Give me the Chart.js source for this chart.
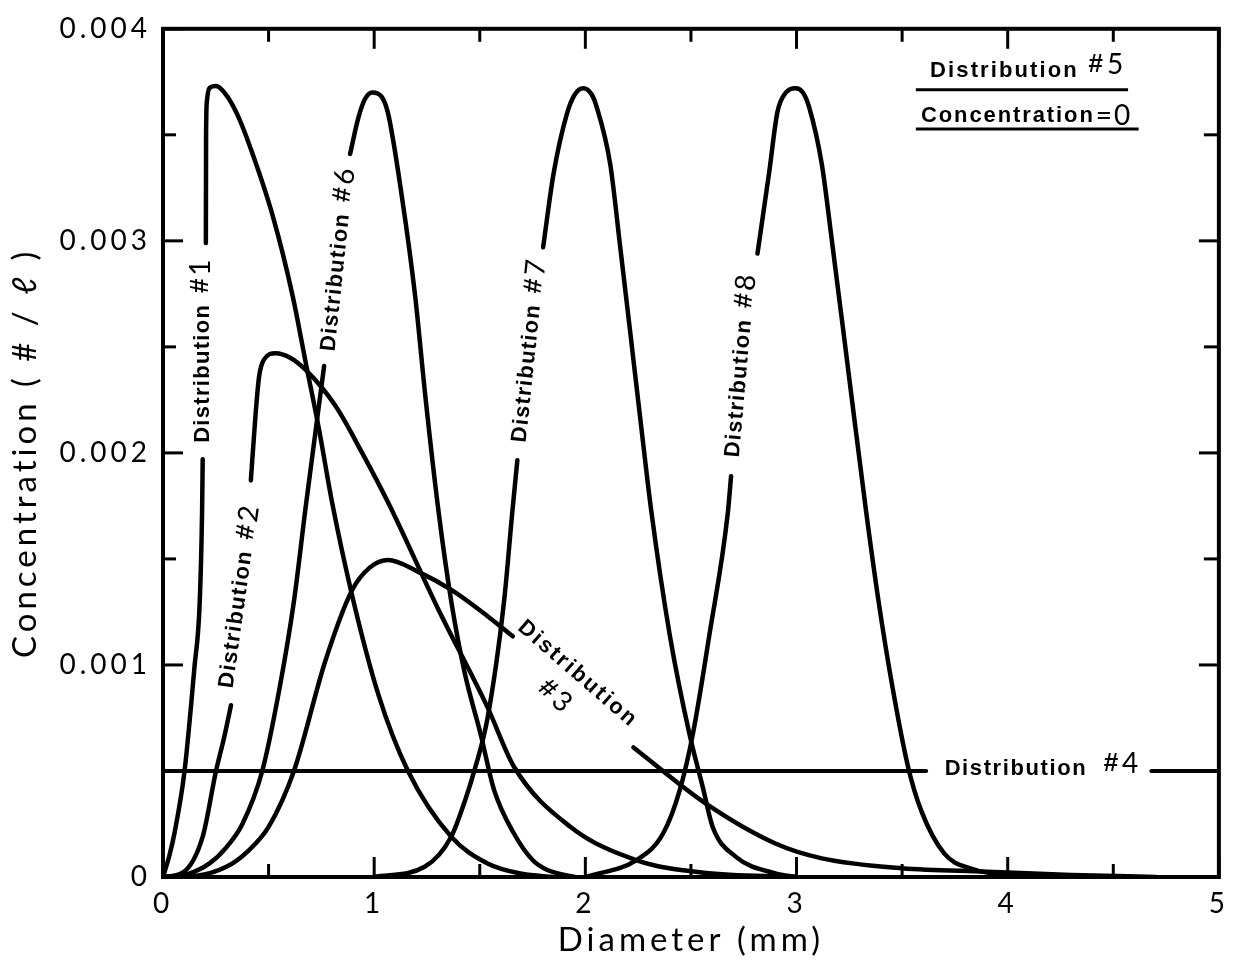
<!DOCTYPE html>
<html>
<head>
<meta charset="utf-8">
<script src="https://cdn.jsdelivr.net/npm/chart.js@4.4.1/dist/chart.umd.min.js"></script>
<style>
  html, body { margin: 0; padding: 0; background: #fff; }
  canvas { display: block; }
</style>
</head>
<body>
<canvas id="dropChart" width="1237" height="966"></canvas>
<script>
// diameter in mm, concentration in units of 0.001 #/l; null marks the break where a label sits
const dist1 = [[0,0],[0.03,0.1],[0.055,0.21],[0.102,0.5],[0.149,0.99],[0.174,1.3],[0.185,1.72],[0.188,1.97],[0.196,null],
  [0.203,2.99],[0.204,3.5],[0.208,3.66],[0.22,3.72],[0.251,3.73],[0.298,3.69],[0.35,3.6],[0.41,3.45],[0.519,3.12],
  [0.614,2.74],[0.677,2.42],[0.739,2.11],[0.8,1.77],[0.895,1.33],[1.02,0.86],[1.16,0.5],[1.365,0.19],[1.537,0.064],
  [1.7,0.015],[1.85,0]];
const dist2 = [[0,0],[0.093,0.02],[0.188,0.19],[0.251,0.5],[0.29,0.66],[0.322,0.81],[0.37,null],[0.416,1.87],
  [0.439,2.19],[0.455,2.36],[0.478,2.44],[0.533,2.47],[0.6,2.45],[0.677,2.39],[0.818,2.22],[0.943,2.0],[1.069,1.76],
  [1.3,1.27],[1.537,0.8],[1.662,0.52],[1.93,0.236],[2.24,0.08],[2.56,0.02],[3.0,0]];
const dist3 = [[0,0],[0.15,0.005],[0.3,0.048],[0.4,0.12],[0.5,0.236],[0.62,0.5],[0.769,1.02],[0.894,1.35],[0.98,1.46],
  [1.066,1.495],[1.207,1.44],[1.364,1.355],[1.537,1.23],[1.656,1.135],[1.9,null],[2.228,0.611],[2.571,0.346],
  [2.9,0.158],[3.12,0.088],[3.5,0.041],[3.9,0.025],[4.3,0.01],[4.7,0]];
const dist4 = [[0,0.5],[3.614,0.5],[4.1,null],[4.68,0.5],[5,0.5]];
const dist6 = [[0,0],[0.12,0.015],[0.22,0.064],[0.3,0.14],[0.376,0.25],[0.47,0.5],[0.55,0.88],[0.62,1.3],[0.675,1.74],
  [0.763,2.41],[0.82,null],[0.886,3.41],[0.925,3.58],[0.957,3.67],[0.991,3.7],[1.035,3.68],[1.066,3.6],[1.131,3.21],
  [1.194,2.74],[1.242,2.27],[1.304,1.73],[1.365,1.3],[1.427,0.97],[1.505,0.67],[1.568,0.41],[1.662,0.205],[1.75,0.08],
  [1.82,0.033],[1.95,0]];
const dist7 = [[1.0,0],[1.239,0.048],[1.365,0.19],[1.43,0.36],[1.474,0.5],[1.537,0.75],[1.615,1.3],[1.654,1.72],
  [1.678,1.965],[1.74,null],[1.8,2.97],[1.85,3.32],[1.913,3.6],[1.95,3.69],[1.99,3.72],[2.03,3.69],[2.054,3.63],
  [2.118,3.36],[2.164,2.98],[2.21,2.59],[2.258,2.18],[2.313,1.72],[2.4,1.14],[2.493,0.674],[2.556,0.424],[2.603,0.236],
  [2.713,0.095],[2.9,0.017],[3.0,0]];
const dist8 = [[2.0,0],[2.242,0.08],[2.368,0.205],[2.447,0.41],[2.509,0.674],[2.587,1.14],[2.675,1.72],[2.69,1.89],
  [2.75,null],[2.815,2.94],[2.87,3.32],[2.91,3.61],[2.95,3.7],[2.996,3.72],[3.03,3.7],[3.06,3.63],[3.12,3.36],[3.17,2.98],
  [3.216,2.62],[3.26,2.27],[3.33,1.72],[3.387,1.31],[3.45,0.92],[3.528,0.52],[3.59,0.314],[3.7,0.11],[3.826,0.04],
  [4.0,0.01],[4.4,0]];

const xTickLabels = ['0', '1', '2', '3', '4', '5'];
const yTickLabels = ['0', '0.001', '0.002', '0.003', '0.004'];
const xMinorTicks = [0.5, 1.5, 2.5, 3.5, 4.5];
const yMinorTicks = [0.5, 1.5, 2.5, 3.5];

// label anchors in data units
const curveLabels = [
  { num: '1', x: 0.189, y: 2.48, angle: -90 },
  { num: '2', x: 0.361, y: 1.32, angle: -82 },
  { num: '6', x: 0.829, y: 2.91, angle: -84 },
  { num: '7', x: 1.734, y: 2.48, angle: -84 },
  { num: '8', x: 2.736, y: 2.41, angle: -85 },
];

const WORD_FONT = 'bold 22px "Liberation Sans", Arial, sans-serif';
const HASH_FONT = 'bold 26px "Liberation Sans", Arial, sans-serif';
const NUM_FONT = '28px Lato, sans-serif';

function drawRun(ctx, cx, cy, angle, parts) {
  ctx.save();
  ctx.letterSpacing = '0px';
  const widths = parts.map(p => {
    ctx.font = p.font;
    return ctx.measureText(p.text).width + (p.spacing || 0) * (p.text.length - 1);
  });
  const total = parts.reduce((s, p, i) => s + (p.gap || 0) + widths[i], 0);
  ctx.translate(cx, cy);
  ctx.rotate(angle * Math.PI / 180);
  ctx.textAlign = 'left';
  ctx.textBaseline = 'middle';
  ctx.fillStyle = '#000';
  let pos = -total / 2;
  parts.forEach((p, i) => {
    pos += p.gap || 0;
    ctx.font = p.font;
    ctx.letterSpacing = (p.spacing || 0) + 'px';
    ctx.fillText(p.text, pos, -(p.rise || 0));
    pos += widths[i];
  });
  ctx.restore();
}

function labelParts(num, spacing) {
  return [
    { text: 'Distribution', font: WORD_FONT, spacing: spacing },
    { text: '#', font: HASH_FONT, gap: 12, rise: 2 },
    { text: num, font: NUM_FONT, gap: 3, rise: 2 },
  ];
}

const framePlugin = {
  id: 'frame',
  beforeDraw(chart) {
    chart.ctx.letterSpacing = '4px';
  },
  afterDraw(chart) {
    const ctx = chart.ctx;
    const { left, right, top, bottom } = chart.chartArea;
    const xs = chart.scales.x, ys = chart.scales.y;
    ctx.save();
    ctx.letterSpacing = '0px';
    ctx.strokeStyle = '#000';
    ctx.lineWidth = 4;
    ctx.strokeRect(left, top, right - left, bottom - top);

    ctx.lineWidth = 3;
    const tick = (x1, y1, x2, y2) => { ctx.beginPath(); ctx.moveTo(x1, y1); ctx.lineTo(x2, y2); ctx.stroke(); };
    xTickLabels.forEach((t, v) => {
      const px = xs.getPixelForValue(v);
      tick(px, bottom, px, bottom - 20);
      tick(px, top, px, top + 20);
    });
    xMinorTicks.forEach(v => {
      const px = xs.getPixelForValue(v);
      tick(px, bottom, px, bottom - 13);
      tick(px, top, px, top + 13);
    });
    yTickLabels.forEach((t, v) => {
      const py = ys.getPixelForValue(v);
      tick(left, py, left + 20, py);
      tick(right, py, right - 20, py);
    });
    yMinorTicks.forEach(v => {
      const py = ys.getPixelForValue(v);
      tick(left, py, left + 13, py);
      tick(right, py, right - 15, py);
    });
    ctx.restore();

    curveLabels.forEach(l => {
      drawRun(ctx, xs.getPixelForValue(l.x), ys.getPixelForValue(l.y), l.angle, labelParts(l.num, 1.3));
    });

    // distribution 3: word along the curve, number tucked underneath
    drawRun(ctx, xs.getPixelForValue(1.96), ys.getPixelForValue(0.961), 41,
      [{ text: 'Distribution', font: WORD_FONT, spacing: 2.3 }]);
    drawRun(ctx, xs.getPixelForValue(1.856), ys.getPixelForValue(0.855), 41, [
      { text: '#', font: HASH_FONT },
      { text: '3', font: NUM_FONT, gap: 4 },
    ]);

    // distribution 4 sits in the horizontal line
    drawRun(ctx, xs.getPixelForValue(4.16), ys.getPixelForValue(0.51), 0, [
      { text: 'Distribution', font: WORD_FONT, spacing: 1.6 },
      { text: '#', font: HASH_FONT, gap: 18, rise: 5 },
      { text: '4', font: NUM_FONT, gap: 4, rise: 5 },
    ]);

    // distribution 5 note, top right
    drawRun(ctx, xs.getPixelForValue(4.09), ys.getPixelForValue(3.8), 0, [
      { text: 'Distribution', font: WORD_FONT, spacing: 2.1 },
      { text: '#', font: HASH_FONT, gap: 12, rise: 6 },
      { text: '5', font: NUM_FONT, gap: 4, rise: 6 },
    ]);
    drawRun(ctx, xs.getPixelForValue(4.085), ys.getPixelForValue(3.59), 0, [
      { text: 'Concentration', font: WORD_FONT, spacing: 1.9 },
      { text: '=', font: NUM_FONT, gap: 3 },
      { text: '0', font: NUM_FONT, gap: 2 },
    ]);
    ctx.save();
    ctx.strokeStyle = '#000';
    ctx.lineWidth = 3;
    const u1 = ys.getPixelForValue(3.712), u2 = ys.getPixelForValue(3.528);
    ctx.beginPath();
    ctx.moveTo(xs.getPixelForValue(3.565), u1); ctx.lineTo(xs.getPixelForValue(4.57), u1);
    ctx.moveTo(xs.getPixelForValue(3.565), u2); ctx.lineTo(xs.getPixelForValue(4.62), u2);
    ctx.stroke();
    ctx.restore();
  }
};

const curves = [
  ['Distribution #1', dist1], ['Distribution #2', dist2], ['Distribution #3', dist3],
  ['Distribution #4', dist4], ['Distribution #6', dist6], ['Distribution #7', dist7], ['Distribution #8', dist8],
];

new Chart('dropChart', {
  type: 'line',
  data: {
    datasets: curves.map(([name, pts]) => ({
      label: name,
      data: pts.map(([x, y]) => ({ x: x, y: y })),
      borderColor: '#000',
      borderWidth: pts === dist4 ? 4 : 4.5,
      borderCapStyle: 'round',
      pointRadius: 0,
      fill: false,
      spanGaps: false,
      cubicInterpolationMode: 'monotone',
    })),
  },
  options: {
    responsive: false,
    animation: false,
    layout: { padding: { top: 25, right: 12, bottom: 0, left: 0 } },
    plugins: { legend: { display: false }, tooltip: { enabled: false } },
    scales: {
      x: {
        type: 'linear', min: 0, max: 5,
        grid: { display: false, drawTicks: false },
        border: { display: false },
        ticks: {
          stepSize: 1, padding: 10, color: '#000',
          font: { family: 'Lato', size: 28 },
          callback: v => xTickLabels[v],
        },
        title: {
          display: true, text: 'Diameter (mm)', color: '#000',
          font: { family: 'Lato', size: 33 }, padding: { top: 0, bottom: 6 },
        },
        afterFit: s => { s.height = 89; },
      },
      y: {
        type: 'linear', min: 0, max: 4,
        grid: { display: false, drawTicks: false },
        border: { display: false },
        ticks: {
          stepSize: 1, padding: 12, color: '#000',
          font: { family: 'Lato', size: 28 },
          callback: v => yTickLabels[v],
        },
        title: {
          display: true, text: 'Concentration ( # / ℓ )', color: '#000',
          font: { family: 'Lato', size: 33 }, padding: { top: 6, bottom: 0 },
        },
        afterFit: s => { s.width = 163; },
      },
    },
  },
  plugins: [framePlugin],
});
</script>
</body>
</html>
